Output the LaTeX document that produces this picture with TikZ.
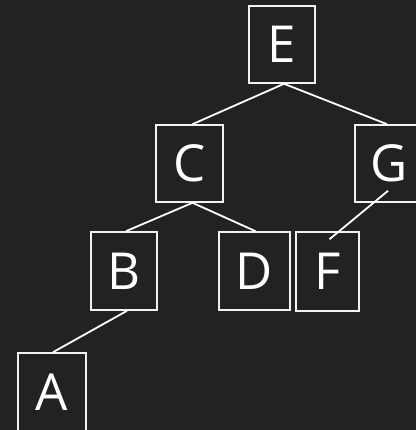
\documentclass[tikz,border=0pt]{standalone}
\usepackage{fontspec}
\setmainfont{Open Sans}
\definecolor{bg}{HTML}{222222}
\definecolor{edge}{HTML}{F2F2F2}
\begin{document}
\begin{tikzpicture}[x=1pt,y=-1pt,
  box/.style={draw=edge, line width=1.6pt, text=white, inner sep=0pt,
    minimum width=66pt, minimum height=77pt,
    font=\fontsize{51}{60}\selectfont},
  link/.style={draw=white, line width=1.8pt}]
\fill[bg] (0,0) rectangle (416,430);
\useasboundingbox (0,0) rectangle (416,430);
\clip (0,0) rectangle (416,430);
\node[box] (E) at (282,44.5) {E};
\node[box, minimum width=67pt] (C) at (189.5,163.5) {C};
\node[box, minimum width=68pt] (G) at (389,163.5) {G};
\node[box, minimum height=78pt] (B) at (124,271) {B};
\node[box, minimum width=71pt, minimum height=78pt] (D) at (254.5,271) {D};
\node[box, minimum width=63pt, minimum height=79pt] (F) at (327.5,271.5) {F};
\node[box, minimum width=68pt, minimum height=78pt] (A) at (52,392) {A};
\draw[link] ([xshift=2pt]E.south) -- ([xshift=3pt]C.north);
\draw[link] ([xshift=2pt]E.south) -- ([xshift=-2pt]G.north);
\draw[link] ([xshift=3pt]C.south) -- ([xshift=2pt]B.north);
\draw[link] ([xshift=3pt]C.south) -- ([xshift=1pt]D.north);
\draw[link] ([xshift=-1pt,yshift=12pt]G.south) -- ([xshift=2pt,yshift=-8pt]F.north);
\draw[link] ([xshift=3pt]B.south) -- ([xshift=1pt]A.north);
\end{tikzpicture}
\end{document}
